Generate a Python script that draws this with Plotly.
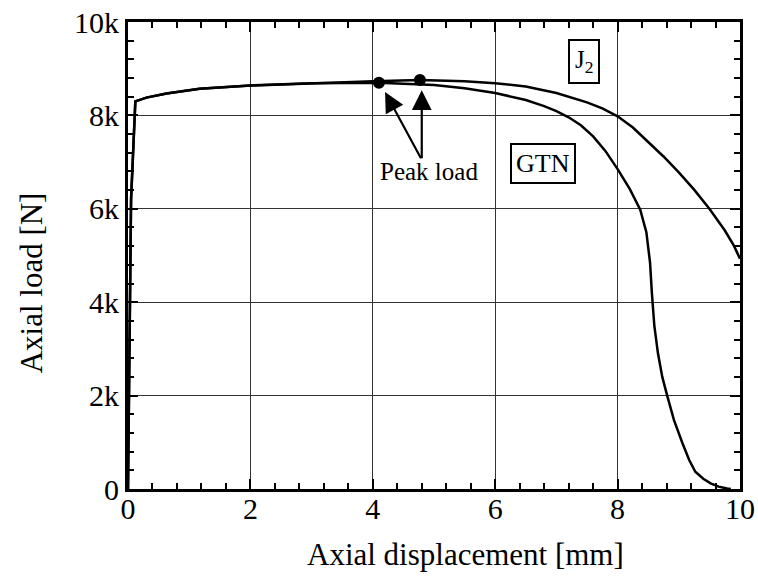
import plotly.graph_objects as go

# ---- data ----
j2_x = [0, 0.05, 0.12, 0.3, 0.63, 1.17, 2.0, 3.0, 4.0, 4.77, 5.5, 6.0, 6.5, 7.0, 7.5, 7.75, 8.0, 8.25, 8.5, 8.75,
        9.0, 9.25, 9.5, 9.75, 9.9, 10.0]
j2_y = [0, 6200, 8300, 8380, 8470, 8570, 8640, 8690, 8730, 8760, 8730, 8690, 8620, 8480, 8280, 8150, 7980, 7740, 7440, 7120,
        6780, 6410, 6000, 5540, 5210, 4930]

gtn_x = [0, 0.05, 0.12, 0.3, 0.63, 1.17, 2.0, 3.0, 4.1, 4.6, 5.0, 5.5, 6.0, 6.5, 6.8, 7.0, 7.2, 7.4, 7.6, 7.8, 8.0, 8.2, 8.37,
         8.47, 8.53, 8.56, 8.6, 8.66, 8.73, 8.81, 8.92, 9.06, 9.17, 9.27, 9.4, 9.52, 9.65, 9.79, 9.85]
gtn_y = [0, 6200, 8300, 8380, 8470, 8570, 8640, 8690, 8700, 8680, 8650, 8580, 8480, 8330, 8200, 8090, 7960, 7790, 7550, 7240,
         6850, 6420, 5980, 5500, 4850, 4200, 3500, 2900, 2400, 2000, 1480, 980, 620, 370, 220, 120, 50, 10, 0]

peak_x = [4.1, 4.77]
peak_y = [8700, 8760]

x_ticks = [0, 2, 4, 6, 8, 10]
y_ticks = [0, 2000, 4000, 6000, 8000, 10000]
y_ticktext = ["0", "2k", "4k", "6k", "8k", "10k"]

x_title = "Axial displacement [mm]"
y_title = "Axial load [N]"

FONT = "Liberation Serif, Times New Roman, serif"

fig = go.Figure()
fig.add_trace(go.Scatter(x=j2_x, y=j2_y, mode="lines", line=dict(color="black", width=2.5), showlegend=False))
fig.add_trace(go.Scatter(x=gtn_x, y=gtn_y, mode="lines", line=dict(color="black", width=2.5), showlegend=False))
fig.add_trace(go.Scatter(x=peak_x, y=peak_y, mode="markers", marker=dict(color="black", size=12), showlegend=False))

# arrows from the label up to the peaks
tail_x, tail_y = 4.80, 7050
tip_x = [4.2, 4.80]
tip_y = [8500, 8540]
for tx, ty in zip(tip_x, tip_y):
    fig.add_annotation(x=tx, y=ty, ax=tail_x, ay=tail_y, axref="x", ayref="y",
                       xref="x", yref="y", text="", showarrow=True, arrowhead=2, arrowsize=1.8,
                       arrowwidth=2.2, arrowcolor="black")

fig.add_annotation(x=4.92, y=6800, text="Peak load", showarrow=False, xref="x", yref="y",
                   font=dict(family=FONT, size=25, color="black"))
fig.add_annotation(x=6.78, y=6960, text="GTN", showarrow=False, xref="x", yref="y",
                   font=dict(family=FONT, size=26, color="black"),
                   bordercolor="black", borderwidth=2, borderpad=4, bgcolor="white")
fig.add_annotation(x=7.45, y=9150, text="J<sub>2</sub>", showarrow=False, xref="x", yref="y",
                   font=dict(family=FONT, size=25, color="black"),
                   bordercolor="black", borderwidth=2, borderpad=5, bgcolor="white")

# axis titles (placed as in the reference, slightly off-centre)
fig.add_annotation(x=0.551, y=-0.141, xref="paper", yref="paper", text=x_title, showarrow=False,
                   xanchor="center", yanchor="middle", font=dict(family=FONT, size=31, color="black"))
fig.add_annotation(x=-0.158, y=0.441, xref="paper", yref="paper", text=y_title, showarrow=False,
                   textangle=-90, xanchor="center", yanchor="middle", font=dict(family=FONT, size=31, color="black"))

axis_common = dict(showline=True, linecolor="black", linewidth=3, mirror="ticks",
                   ticks="inside", ticklen=10, tickwidth=2, tickcolor="black",
                   showgrid=True, gridcolor="#333333", gridwidth=1, zeroline=False,
                   automargin=False,
                   tickfont=dict(family=FONT, size=30, color="black"))

fig.update_xaxes(range=[0, 10], tickvals=x_ticks, ticktext=[str(v) for v in x_ticks],
                 ticklabelstandoff=-9,
                 minor=dict(ticks="inside", ticklen=6, tickwidth=2, tickcolor="black", dtick=0.4, showgrid=False),
                 **axis_common)
fig.update_yaxes(range=[0, 10000], tickvals=y_ticks, ticktext=y_ticktext,
                 minor=dict(ticks="inside", ticklen=6, tickwidth=2, tickcolor="black", dtick=400, showgrid=False),
                 **axis_common)

fig.update_layout(width=758, height=578, margin=dict(l=128, r=18, t=22, b=89),
                  plot_bgcolor="white", paper_bgcolor="white", showlegend=False)

fig.write_html("out.html")
